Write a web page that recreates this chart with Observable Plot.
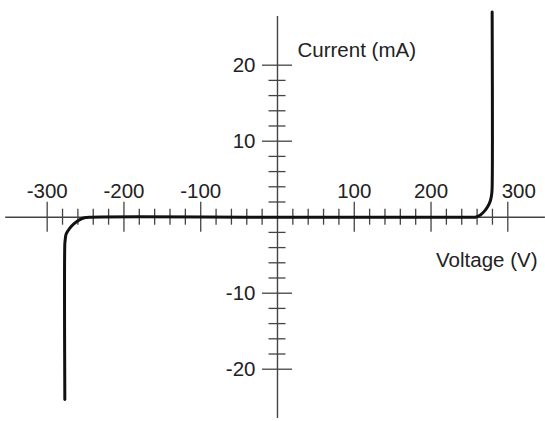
<!DOCTYPE html>
<html>
<head>
<meta charset="utf-8">
<script src="https://cdn.jsdelivr.net/npm/d3@7"></script>
<script src="https://cdn.jsdelivr.net/npm/@observablehq/plot@0.6"></script>
<style>
  html, body { margin: 0; padding: 0; background: #fff; }
  #chart svg { display: block; }
</style>
</head>
<body>
<div id="chart"></div>
<script>
// Curve: voltage (V) vs current (mA)
const voltage = [-277, -277, -276.6, -275.3, -271, -265.3, -258, -251.5, -243, 0, 250, 257.8, 264.4, 269.6, 273.9, 277.4, 279.1, 279.6, 279.6];
const current = [-24, -3.5, -3.07, -2.2, -1.5, -0.87, -0.35, -0.08, 0, 0, 0, 0, 0.3, 0.8, 1.4, 2.2, 3.1, 3.95, 27];

// Axis ticks
const xMajor = [-300, -200, -100, 100, 200];
const xMajorOffset = [300];
const xMinor = [-280, -260, -240, -220, -180, -160, -140, -120, -80, -60, -40, -20, 20, 40, 60, 80, 120, 140, 160, 180, 220, 240, 260, 280];
const yMajor = [-20, -10, 10, 20];
const yMinor = [-18, -16, -14, -12, -8, -6, -4, -2, 2, 4, 6, 8, 12, 14, 16, 18];

// Axis extents and domains
const xAxisExtent = [-354, 349];
const yAxisExtent = [-26.5, 26.4];
const xDomain = [-360.8, 349.1];
const yDomain = [-26.88, 28.51];

const xLabel = ["Voltage (V)"];
const yLabel = ["Current (mA)"];

const curve = voltage.map((v, i) => ({v, c: current[i]}));

const font = "Liberation Sans, Arial, Helvetica, sans-serif";
const axisColor = "#444";
const fs = 20.5;

const chart = Plot.plot({
  width: 545,
  height: 421,
  marginTop: 0, marginRight: 0, marginBottom: 0, marginLeft: 0,
  style: {fontFamily: font, background: "#fff"},
  x: {domain: xDomain, axis: null},
  y: {domain: yDomain, axis: null},
  marks: [
    // axis lines
    Plot.ruleY([0], {x1: xAxisExtent[0], x2: xAxisExtent[1], stroke: axisColor, strokeWidth: 1.4}),
    Plot.ruleX([0], {y1: yAxisExtent[0], y2: yAxisExtent[1], stroke: axisColor, strokeWidth: 1.4}),
    // x ticks
    Plot.ruleX(xMinor, {x: d => d, y1: 0, y2: 0, insetTop: -8, insetBottom: -8, stroke: axisColor, strokeWidth: 1.3}),
    Plot.ruleX([...xMajor, ...xMajorOffset], {x: d => d, y1: 0, y2: 0, insetTop: -15, insetBottom: -15, stroke: axisColor, strokeWidth: 1.3}),
    // y ticks
    Plot.ruleY(yMinor, {y: d => d, x1: 0, x2: 0, insetLeft: -8.5, insetRight: -8.5, stroke: axisColor, strokeWidth: 1.3}),
    Plot.ruleY(yMajor, {y: d => d, x1: 0, x2: 0, insetLeft: -15, insetRight: -15, stroke: axisColor, strokeWidth: 1.3}),
    // curve
    Plot.line(curve, {x: "v", y: "c", stroke: "#111", strokeWidth: 3, curve: "catmull-rom"}),
    // tick labels
    Plot.text(xMajor, {x: d => d, y: 0, text: d => String(d), lineAnchor: "bottom", dy: -19.5, fontSize: fs, fill: "#222"}),
    Plot.text(xMajorOffset, {x: d => d, y: 0, text: d => String(d), lineAnchor: "bottom", dy: -19.5, dx: 11, fontSize: fs, fill: "#222"}),
    Plot.text(yMajor, {x: 0, y: d => d, text: d => String(d), textAnchor: "end", dx: -22, fontSize: fs, fill: "#222"}),
    // axis titles
    Plot.text(yLabel, {frameAnchor: "top-left", text: d => d, textAnchor: "start", lineAnchor: "bottom", dx: 297, dy: 56, fontSize: fs, fill: "#222"}),
    Plot.text(xLabel, {frameAnchor: "top-left", text: d => d, textAnchor: "end", lineAnchor: "bottom", dx: 537, dy: 266.5, fontSize: fs, fill: "#222"})
  ]
});
document.getElementById("chart").append(chart);
</script>
</body>
</html>
